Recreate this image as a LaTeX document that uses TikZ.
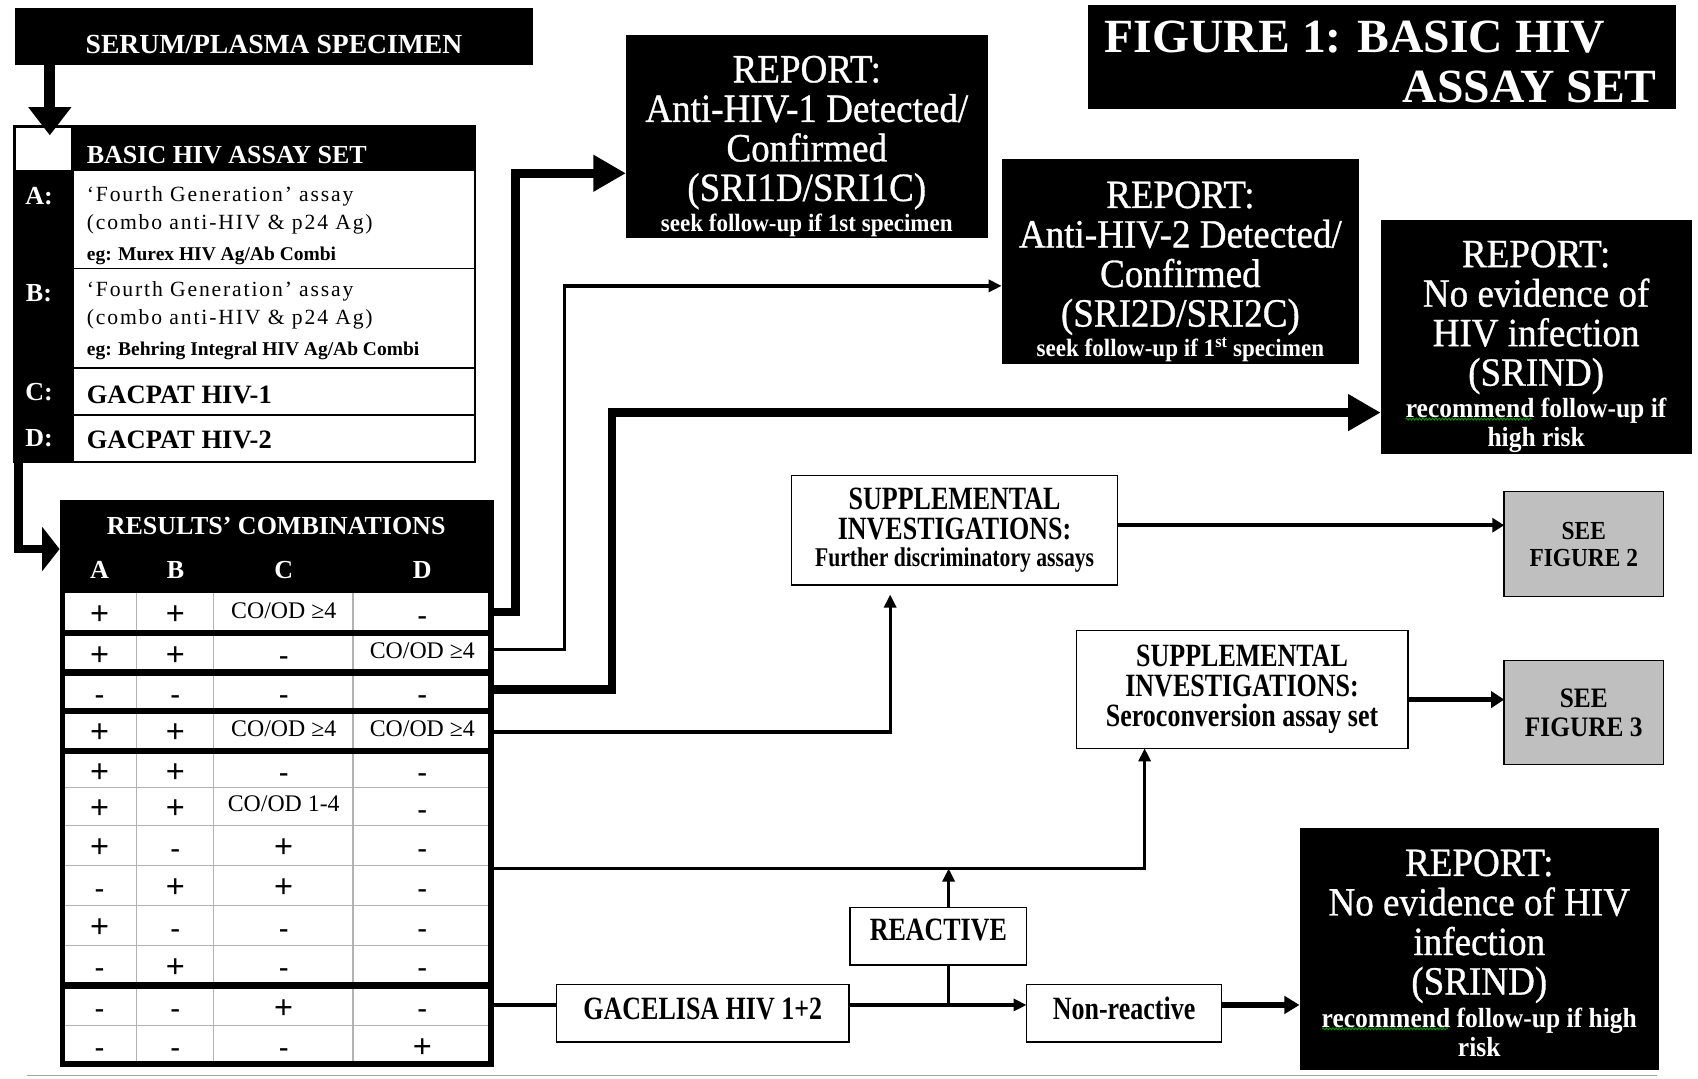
\documentclass[tikz,border=0pt]{standalone}
\usepackage{fontspec}
\setmainfont{Liberation Serif}
\newfontfamily\repf[FakeStretch=0.925,UprightFeatures={FakeBold=0.8}]{Liberation Serif}
\newfontfamily\cndf[FakeStretch=0.9]{Liberation Serif}
\newfontfamily\ncf[FakeStretch=0.8]{Liberation Serif}
\newfontfamily\spcf[LetterSpace=8.5]{Liberation Serif}
\newfontfamily\sansf{Liberation Sans}
\usetikzlibrary{arrows.meta,decorations.pathmorphing}
\newcommand\tabplus{\raisebox{-11.6pt}{\sansf\fontsize{30}{30}\selectfont +}}
\newcommand\tabminus{\raisebox{-11pt}{\bfseries\fontsize{26}{26}\selectfont -}}
\newcommand\tabge{\raisebox{-5.3pt}{CO/OD ≥4}}
\newcommand\tabot{\raisebox{-5.3pt}{CO/OD 1-4}}
\begin{document}
\begin{tikzpicture}[x=1pt,y=-1pt,
  blk/.style={fill=black,inner sep=0pt,outer sep=0pt},
  wbox/.style={draw=black,line width=1.4pt,fill=white,inner sep=0pt,outer sep=0pt,align=center,font=\ncf\bfseries\fontsize{30}{27}\selectfont},
  gbox/.style={wbox,fill=black!25},
  wtxt/.style={text=white,inner sep=0pt,align=center},
  reptxt/.style={wtxt,font=\repf\fontsize{37}{36.5}\selectfont},
  hdr/.style={wtxt,font=\bfseries\fontsize{24}{24}\selectfont},
  rowtxt/.style={inner sep=0pt,anchor=west,font=\spcf\fontsize{20}{20}\selectfont},
  egtxt/.style={inner sep=0pt,anchor=west,font=\bfseries\fontsize{18}{18}\selectfont},
  gactxt/.style={inner sep=0pt,anchor=west,font=\bfseries\fontsize{24.5}{24.5}\selectfont},
  cell/.style={inner sep=0pt,anchor=base,font=\fontsize{22}{22}\selectfont},
  fat/.style={line width=8pt},
  slim/.style={line width=3pt},
  bigtip/.style={-{Triangle[length=30pt,width=32pt]}},
  smalltip/.style={-{Triangle[length=12pt,width=11pt]}},
  squig/.style={green!60!black,line width=0.8pt,decorate,decoration={snake,amplitude=1pt,segment length=3pt}},
]
\path[use as bounding box,fill=white] (0,0) rectangle (1568,996);

% ---------- serum specimen ----------
\node[blk,minimum width=478,minimum height=53,anchor=north west] (serum) at (14,7) {};
\node[wtxt,font=\bfseries\fontsize{25.5}{25.5}\selectfont] (serumt) at (253,41) {SERUM/PLASMA SPECIMEN};

% ---------- basic HIV assay set ----------
\node[blk,minimum width=428,minimum height=313,anchor=north west] (basic) at (12,115) {};
\fill[white] (15,118) rectangle (66,157);
\fill[white] (68,158) rectangle (438,426);
\foreach \yy in {248,340,383} \draw[line width=1.4pt] (68,\yy) -- (438,\yy);
\node[hdr,anchor=west] (basich) at (80,143) {BASIC HIV ASSAY SET};
\node[hdr] (la) at (36,181) {A:};
\node[hdr] (lb) at (36,271) {B:};
\node[hdr] (lc) at (36,362) {C:};
\node[hdr] (ld) at (36,405) {D:};
\node[rowtxt] (ta1) at (80,181) {‘Fourth Generation’ assay};
\node[rowtxt] (ta2) at (80,207) {(combo anti-HIV \& p24 Ag)};
\node[egtxt] (ta3) at (80,236) {eg: Murex HIV Ag/Ab Combi};
\node[rowtxt] (tb1) at (80,269) {‘Fourth Generation’ assay};
\node[rowtxt] (tb2) at (80,295) {(combo anti-HIV \& p24 Ag)};
\node[egtxt] (tb3) at (80,324) {eg: Behring Integral HIV Ag/Ab Combi};
\node[gactxt] (tc) at (80,365) {GACPAT HIV-1};
\node[gactxt] (td) at (80,406) {GACPAT HIV-2};

% ---------- results' combinations ----------
\node[blk,minimum width=401,minimum height=86,anchor=north west] (results) at (55,462) {};
\node[hdr] (resh) at (255,486) {RESULTS’ COMBINATIONS};
\node[hdr] (ha) at (92,526) {A};
\node[hdr] (hb) at (162,526) {B};
\node[hdr] (hc) at (262,526) {C};
\node[hdr] (hd) at (390,526) {D};
\fill[white] (58,548) rectangle (453,982);
\foreach \xx in {126,197,326} \draw[black!30,line width=1.2pt] (\xx,548) -- (\xx,982);
\foreach \yy in {727,762,799,836,873,947} \draw[black!30,line width=1.2pt] (58,\yy) -- (453,\yy);
\foreach \yy in {584.5,621,656.5,693.5,910} \draw[line width=6pt] (55,\yy) -- (456,\yy);
\draw[line width=5pt] (57.5,545) -- (57.5,982.5) -- (453.5,982.5) -- (453.5,545);
\foreach \yy/\ca/\cb/\cc/\cd [count=\r] in {
  565.5/\tabplus/\tabplus/\tabge/\tabminus,
  602.5/\tabplus/\tabplus/\tabminus/\tabge,
  638.5/\tabminus/\tabminus/\tabminus/\tabminus,
  674.5/\tabplus/\tabplus/\tabge/\tabge,
  711/\tabplus/\tabplus/\tabminus/\tabminus,
  744.5/\tabplus/\tabplus/\tabot/\tabminus,
  780.5/\tabplus/\tabminus/\tabplus/\tabminus,
  817.5/\tabminus/\tabplus/\tabplus/\tabminus,
  854.5/\tabplus/\tabminus/\tabminus/\tabminus,
  891/\tabminus/\tabplus/\tabminus/\tabminus,
  929/\tabminus/\tabminus/\tabplus/\tabminus,
  965/\tabminus/\tabminus/\tabminus/\tabplus}
{
  \node[cell] (ca\r) at (92,\yy) {\ca};
  \node[cell] (cb\r) at (162,\yy) {\cb};
  \node[cell] (cc\r) at (262,\yy) {\cc};
  \node[cell] (cd\r) at (390,\yy) {\cd};
}
\coordinate (o1) at (456,565);
\coordinate (o2) at (456,600);
\coordinate (o3) at (456,637);
\coordinate (o4) at (456,676);
\coordinate (o5) at (456,802);
\coordinate (o6) at (456,928);

% ---------- title ----------
\node[blk,minimum width=543,minimum height=96] (title) at (1276.5,53) {};
\node[wtxt,anchor=west,font=\bfseries\fontsize{44}{46}\selectfont] (tit1) at (1020,34) {FIGURE 1: BASIC HIV};
\node[wtxt,anchor=east,font=\bfseries\fontsize{44}{46}\selectfont] (tit2) at (1530,80) {ASSAY SET};

% ---------- reports ----------
\node[blk,minimum width=334,minimum height=188] (rep1) at (745,126) {};
\node[reptxt] (rep1t) at (745,135) {REPORT:\\Anti-HIV-1 Detected/\\Confirmed\\(SRI1D/SRI1C)\\[-8.5pt]{\bfseries\fontsize{23}{24}\selectfont seek follow-up if 1st specimen}};
\node[blk,minimum width=330,minimum height=189] (rep2) at (1090,241.5) {};
\node[reptxt] (rep2t) at (1090,251) {REPORT:\\Anti-HIV-2 Detected/\\Confirmed\\(SRI2D/SRI2C)\\[-8.5pt]{\bfseries\fontsize{23}{24}\selectfont seek follow-up if 1\textsuperscript{st} specimen}};
\node[blk,minimum width=287,minimum height=216] (rep3) at (1418.5,311) {};
\node[reptxt] (rep3t) at (1418.5,320) {REPORT:\\No evidence of\\HIV infection\\(SRIND)\\[-7.5pt]{\bfseries\fontsize{25.5}{25.5}\selectfont recommend follow-up if}\\[-9.5pt]{\bfseries\fontsize{25.5}{25.5}\selectfont high risk}};
\node[blk,minimum width=332,minimum height=223] (rep4) at (1366,876.5) {};
\node[reptxt] (rep4t) at (1366,880) {REPORT:\\No evidence of HIV\\infection\\(SRIND)\\[-6.5pt]{\bfseries\fontsize{25.5}{25.5}\selectfont recommend follow-up if high}\\[-9.5pt]{\bfseries\fontsize{25.5}{25.5}\selectfont risk}};
\draw[squig] (1298,387) -- (1415,387);
\draw[squig] (1221,950) -- (1337,950);

% ---------- supplemental / see figure ----------
\node[wbox,minimum width=301,minimum height=101,font=\ncf\bfseries\fontsize{30}{28}\selectfont] (supp1) at (881.5,489.5) {SUPPLEMENTAL\\INVESTIGATIONS:\\[-3pt]{\fontsize{25}{25}\selectfont Further discriminatory assays}};
\node[gbox,minimum width=147,minimum height=97,font=\cndf\bfseries\fontsize{24}{25}\selectfont] (fig2) at (1462.5,502.5) {SEE\\FIGURE 2};
\node[wbox,minimum width=306,minimum height=109,font=\ncf\bfseries\fontsize{30}{27.5}\selectfont] (supp2) at (1147,636.5) {SUPPLEMENTAL\\INVESTIGATIONS:\\Seroconversion assay set};
\node[gbox,minimum width=147,minimum height=96,font=\cndf\bfseries\fontsize{26}{27}\selectfont] (fig3) at (1462.5,658) {SEE\\FIGURE 3};

% ---------- GACELISA branch ----------
\node[wbox,minimum width=163,minimum height=53,text height=20pt,text depth=12pt] (reac) at (866.5,864.5) {REACTIVE};
\node[wbox,minimum width=270,minimum height=53,text height=20pt,text depth=8pt] (gac) at (649,935.5) {GACELISA HIV 1+2};
\node[wbox,minimum width=180,minimum height=53,text height=20pt,text depth=8pt] (nonr) at (1038,935.5) {Non-reactive};

% ---------- connectors ----------
\coordinate (sa) at (46,125);
\draw[line width=10pt,-{Triangle[length=26pt,width=38pt]}] (sa |- serum.south) -- (sa);
\coordinate (bt) at (17,507);
\draw[line width=8pt,-{Triangle[length=16pt,width=40pt]}] (bt |- basic.south) -- (bt) -- (bt -| results.west);

\coordinate (k1) at (476,160);
\draw[fat,bigtip] (o1) -| (k1) -- (k1 -| rep1.west);
\coordinate (k2) at (521,264);
\draw[slim,smalltip] (o2) -| (k2) -- (k2 -| rep2.west);
\coordinate (k3) at (565,381);
\draw[fat,bigtip] (o3) -| (k3) -- (k3 -| rep3.west);
\coordinate (k4) at (822,549);
\draw[slim,smalltip] (o4) -| (k4);
\coordinate (k5) at (1057,802);
\draw[slim,smalltip] (o5) -- (k5) -- (k5 |- supp2.south);
\draw[slim] (o6) -- (o6 -| gac.west);
\draw[line width=4pt,smalltip] (o6 -| gac.east) -- (o6 -| nonr.west);
\coordinate (br) at (876,928);
\draw[slim] (br) -- (br |- reac.south);
\draw[slim,smalltip] (br |- reac.north) -- (br |- k5);
\draw[line width=5pt,-{Triangle[length=14pt,width=16pt]}] (o6 -| nonr.east) -- (o6 -| rep4.west);
\coordinate (s1) at (1100,485);
\draw[line width=4pt,-{Triangle[length=11pt,width=13pt]}] (supp1.east |- s1) -- (fig2.west |- s1);
\coordinate (s2) at (1340,646);
\draw[line width=5pt,-{Triangle[length=12pt,width=15pt]}] (supp2.east |- s2) -- (fig3.west |- s2);

% ---------- bottom rule ----------
\draw[black!35,line width=1.5pt] (25,993) -- (1530,993);
\end{tikzpicture}
\end{document}
